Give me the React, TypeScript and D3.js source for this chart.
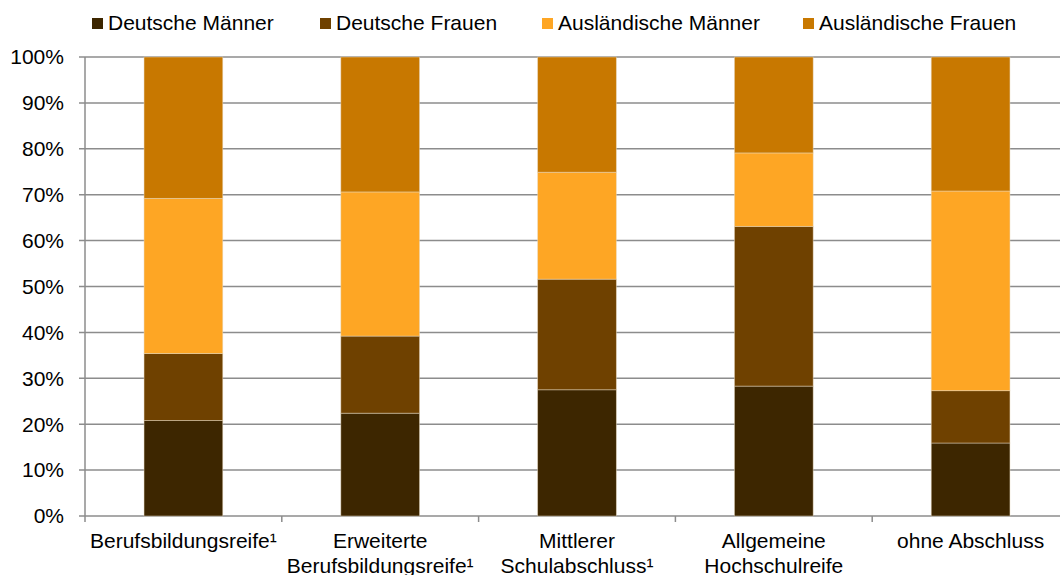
import React from "react";
import * as d3 from "d3";

const categories = [
  ["Berufsbildungsreife¹"],
  ["Erweiterte", "Berufsbildungsreife¹"],
  ["Mittlerer", "Schulabschluss¹"],
  ["Allgemeine", "Hochschulreife"],
  ["ohne Abschluss"],
];
const seriesNames = ["Deutsche Männer", "Deutsche Frauen", "Ausländische Männer", "Ausländische Frauen"];
const deutscheMaenner = [20.8, 22.4, 27.5, 28.3, 15.9];
const deutscheFrauen = [14.6, 16.8, 24.1, 34.8, 11.4];
const auslaendischeMaenner = [33.8, 31.4, 23.3, 16.0, 43.5];
const auslaendischeFrauen = [30.8, 29.4, 25.1, 20.9, 29.2];
const yTicks = [0, 10, 20, 30, 40, 50, 60, 70, 80, 90, 100];
const colors = ["#3d2600", "#6f4100", "#fea624", "#c87800"];

export default function App() {
  const W = 1060, H = 575;
  const left = 85, right = 1069, top = 57, bottom = 516;
  const keys = categories.map((c) => c.join(" "));
  const x = d3.scaleBand<string>().domain(keys).range([left, right]).paddingInner(0.6).paddingOuter(0.3);
  const y = d3.scaleLinear().domain([0, 100]).range([bottom, top]);
  const rows = keys.map((k, i) => ({
    key: k,
    s0: deutscheMaenner[i],
    s1: deutscheFrauen[i],
    s2: auslaendischeMaenner[i],
    s3: auslaendischeFrauen[i],
  }));
  const stack = d3.stack<any>().keys(["s0", "s1", "s2", "s3"]).offset(d3.stackOffsetExpand);
  const stacked = stack(rows);
  const font = "Liberation Sans, Arial, sans-serif";
  const fs = 21;
  const step = x.step();
  const tickXs = d3.range(keys.length + 1).map((i) => left + i * step);
  const legendX = [92, 320, 542, 803];

  return (
    <svg width={W} height={H} style={{ position: "absolute", left: 0, top: 0, background: "#fff" }} fontFamily={font}>
      {yTicks.map((t) => (
        <g key={t}>
          <line x1={left - 6} x2={W} y1={y(t)} y2={y(t)} stroke="#8c8c8c" strokeWidth={1.5} />
          <text x={64} y={y(t)} dy="0.35em" textAnchor="end" fontSize={fs} fill="#000">
            {t}%
          </text>
        </g>
      ))}
      <line x1={left} x2={left} y1={top} y2={bottom} stroke="#8c8c8c" strokeWidth={1.5} />
      {tickXs.map((tx, i) => (
        <line key={i} x1={tx} x2={tx} y1={bottom} y2={bottom + 6} stroke="#8c8c8c" strokeWidth={1.5} />
      ))}
      {stacked.map((s, si) => (
        <g key={si} fill={colors[si]}>
          {s.map((d, i) => (
            <rect
              key={i}
              x={x(keys[i])!}
              y={y(d[1] * 100)}
              width={x.bandwidth()}
              height={y(d[0] * 100) - y(d[1] * 100)}
              stroke="#e8d8c0"
              strokeOpacity={0.6}
              strokeWidth={0.8}
            />
          ))}
        </g>
      ))}
      {categories.map((lines, i) => (
        <text key={i} x={x(keys[i])! + x.bandwidth() / 2} y={548} textAnchor="middle" fontSize={fs} fill="#000">
          {lines.map((l, j) => (
            <tspan key={j} x={x(keys[i])! + x.bandwidth() / 2} dy={j === 0 ? 0 : 25}>
              {l}
            </tspan>
          ))}
        </text>
      ))}
      {seriesNames.map((n, i) => (
        <g key={n}>
          <rect x={legendX[i]} y={18} width={11} height={11} fill={colors[i]} />
          <text x={legendX[i] + 16} y={30} fontSize={fs} fill="#000">
            {n}
          </text>
        </g>
      ))}
    </svg>
  );
}
